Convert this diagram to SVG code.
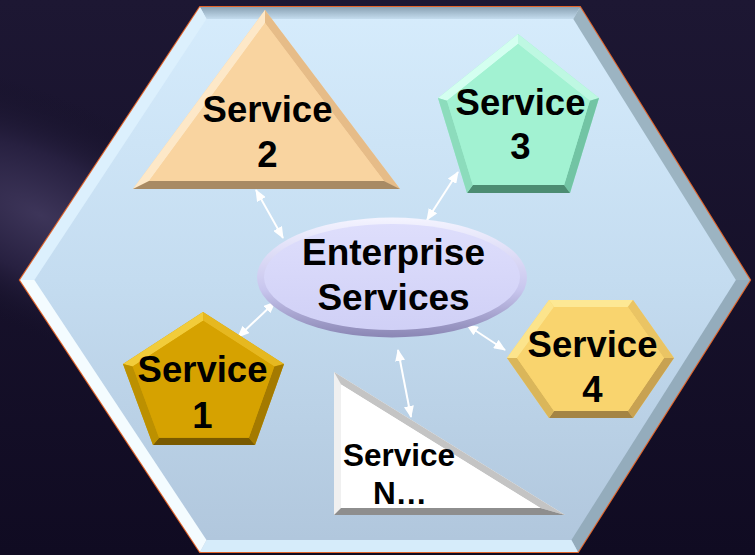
<svg xmlns="http://www.w3.org/2000/svg" width="755" height="555" viewBox="0 0 755 555">
<defs>
<radialGradient id="bgSheen" cx="40" cy="215" r="260" gradientUnits="userSpaceOnUse" gradientTransform="translate(40 215) rotate(25) scale(1 0.45) translate(-40 -215)">
<stop offset="0" stop-color="#3d3559"/>
<stop offset="0.5" stop-color="#272040"/>
<stop offset="1" stop-color="#141027" stop-opacity="0"/>
</radialGradient>
<linearGradient id="bgBase" x1="0" y1="0" x2="0" y2="1">
<stop offset="0" stop-color="#1d1733"/>
<stop offset="1" stop-color="#100b22"/>
</linearGradient>
<linearGradient id="hexFill" x1="0" y1="0" x2="0" y2="1">
<stop offset="0" stop-color="#d6ecfc"/>
<stop offset="0.5" stop-color="#c4dcf0"/>
<stop offset="1" stop-color="#b0c6dc"/>
</linearGradient>
<linearGradient id="topBand" x1="0" y1="0" x2="0" y2="1">
<stop offset="0" stop-color="#8aa2b4"/>
<stop offset="1" stop-color="#c4dcee"/>
</linearGradient>
<linearGradient id="ellRim" x1="0" y1="0" x2="0" y2="1">
<stop offset="0" stop-color="#f4f4ff"/>
<stop offset="0.6" stop-color="#c8c6ee"/>
<stop offset="1" stop-color="#8a86b4"/>
</linearGradient>
<linearGradient id="ellFill" x1="0" y1="0" x2="0" y2="1">
<stop offset="0" stop-color="#dedefc"/>
<stop offset="1" stop-color="#d0d0f6"/>
</linearGradient>
<marker id="ah" viewBox="0 0 12 10" refX="11" refY="5" markerWidth="12" markerHeight="10" markerUnits="userSpaceOnUse" orient="auto-start-reverse">
<path d="M0,0 L12,5 L0,10 z" fill="#ffffff"/>
</marker>
<style>
.lbl{font-family:"Liberation Sans",Arial,Helvetica,sans-serif;font-weight:bold;fill:#000;text-anchor:middle}
.big{font-size:36.5px}
.ent{font-size:37px}
.sn{font-size:31.5px}
.conn line{stroke:#ffffff;stroke-width:2;marker-start:url(#ah);marker-end:url(#ah)}
</style>
</defs>

<!-- background -->
<rect x="0" y="0" width="755" height="555" fill="url(#bgBase)"/>
<rect x="0" y="0" width="755" height="555" fill="url(#bgSheen)"/>

<!-- hexagon container -->
<g id="container">
<polygon points="200,7 580,7 750,280 578,552 200,552 20,280" fill="url(#hexFill)" stroke="#e2642a" stroke-width="2.2"/>
<polygon points="200,7 580,7 573.3,19 206.5,19" fill="url(#topBand)"/>
<polygon points="580,7 750,280 735.9,280 573.3,19" fill="#9cb4c2"/>
<polygon points="750,280 578,552 571.4,540 735.9,280" fill="#94acbc"/>
<polygon points="578,552 200,552 206.5,540 571.4,540" fill="#d6ecfa"/>
<polygon points="200,552 20,280 34.4,280 206.5,540" fill="#f4fcff"/>
<polygon points="20,280 200,7 206.5,19 34.4,280" fill="#dcf0fd"/>
</g>

<!-- connectors -->
<g id="connectors" class="conn">
<line x1="256" y1="190" x2="283" y2="238"/>
<line x1="458" y1="172" x2="427" y2="220"/>
<line x1="238" y1="337" x2="275" y2="302"/>
<line x1="467" y1="325" x2="505" y2="350"/>
<line x1="398" y1="350" x2="411" y2="417"/>
</g>

<!-- Service 2 -->
<g id="service2">
<polygon points="265,10 133,189 400,189" fill="#f8d3a0"/>
<polygon points="265,10 133,189 149,181 265,23" fill="#fde8c8"/>
<polygon points="265,10 400,189 384,181 265,23" fill="#e6bc88"/>
<polygon points="133,189 400,189 384,181 149,181" fill="#a88a64"/>
<polygon points="265,23 149,181 384,181" fill="#f9d4a0"/>
<text class="lbl big" x="267.5" y="122">Service</text>
<text class="lbl big" x="267.5" y="167">2</text>
</g>

<!-- Service 3 -->
<g id="service3">
<polygon points="518,34 599,98 570,193 467,193 438,98" fill="#a0f0d0"/>
<polygon points="518,34 438,98 447,100.7 518,43.9" fill="#d4fff0"/>
<polygon points="518,34 599,98 589.8,100.7 518,43.9" fill="#bef8e2"/>
<polygon points="599,98 570,193 564.1,185 589.8,100.7" fill="#72c4a4"/>
<polygon points="570,193 467,193 472.8,185 564.1,185" fill="#4c8c72"/>
<polygon points="467,193 438,98 447,100.7 472.8,185" fill="#8cdcbc"/>
<polygon points="518,43.9 589.8,100.7 564.1,185 472.8,185 447,100.7" fill="#a2f2d2"/>
<text class="lbl big" x="520.5" y="115">Service</text>
<text class="lbl big" x="520.5" y="159">3</text>
</g>

<!-- Service 1 -->
<g id="service1">
<polygon points="203,312 284,364 255,445 153,445 123,364" fill="#d4a000"/>
<polygon points="203,312 123,364 132.7,366.5 203.1,320.8" fill="#f2cc3a"/>
<polygon points="203,312 284,364 274.3,366.5 203.1,320.8" fill="#e6b820"/>
<polygon points="284,364 255,445 248.8,437.8 274.3,366.5" fill="#a47a00"/>
<polygon points="255,445 153,445 159.1,437.8 248.8,437.8" fill="#7a5a00"/>
<polygon points="153,445 123,364 132.7,366.5 159.1,437.8" fill="#bc9000"/>
<polygon points="203.1,320.8 274.3,366.5 248.8,437.8 159.1,437.8 132.7,366.5" fill="#d6a200"/>
<text class="lbl big" x="202.5" y="382">Service</text>
<text class="lbl big" x="202.5" y="428">1</text>
</g>

<!-- Service 4 -->
<g id="service4">
<polygon points="549,300 633,300 674,358 633,418 549,418 507,358" fill="#f9d46e"/>
<polygon points="549,300 633,300 627.9,307.1 554,307.1" fill="#fde894"/>
<polygon points="633,300 674,358 664,358.1 627.9,307.1" fill="#eac464"/>
<polygon points="674,358 633,418 627.9,410.9 664,358.1" fill="#c8a252"/>
<polygon points="633,418 549,418 554,410.9 627.9,410.9" fill="#a48444"/>
<polygon points="549,418 507,358 517,358.1 554,410.9" fill="#dab65a"/>
<polygon points="507,358 549,300 554,307.1 517,358.1" fill="#fce48c"/>
<polygon points="554,307.1 627.9,307.1 664,358.1 627.9,410.9 554,410.9 517,358.1" fill="#f9d46e"/>
<text class="lbl big" x="592.5" y="357">Service</text>
<text class="lbl big" x="592.5" y="402">4</text>
</g>

<!-- Service N -->
<g id="serviceN">
<polygon points="334,372 334,515 565,515" fill="#ffffff"/>
<polygon points="334,372 334,515 341,508 341,384.6" fill="#f0f0f0"/>
<polygon points="334,372 565,515 540.4,508 341,384.6" fill="#c4c4c4"/>
<polygon points="334,515 565,515 540.4,508 341,508" fill="#8e8e8e"/>
<polygon points="341,384.6 341,508 540.4,508" fill="#ffffff"/>
<text class="lbl sn" x="399" y="466">Service</text>
<text class="lbl sn" x="400" y="504">N…</text>
</g>

<!-- Enterprise Services -->
<g id="enterprise">
<ellipse cx="392" cy="277.5" rx="135" ry="60" fill="url(#ellRim)"/>
<ellipse cx="392" cy="277" rx="128" ry="53" fill="url(#ellFill)"/>
<text class="lbl ent" x="393.5" y="265">Enterprise</text>
<text class="lbl ent" x="393.5" y="310">Services</text>
</g>
</svg>
